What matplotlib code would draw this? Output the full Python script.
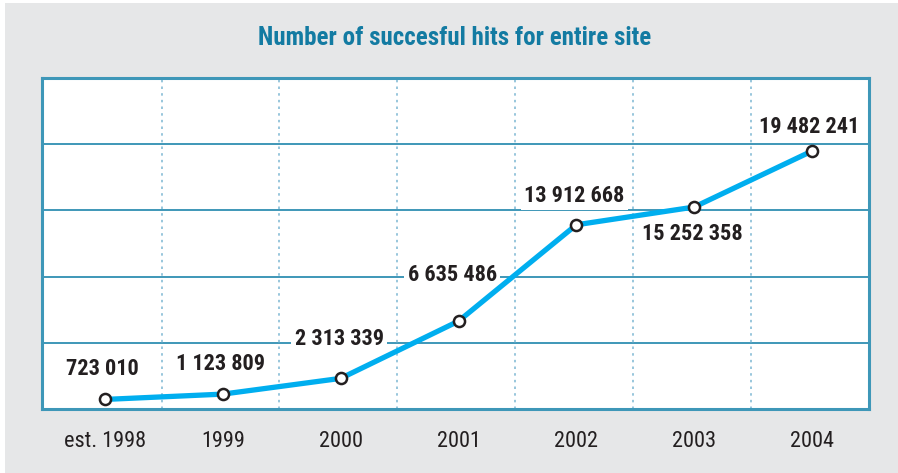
import matplotlib
matplotlib.use("Agg")
import matplotlib.pyplot as plt
from matplotlib.patches import Rectangle

categories = ["est. 1998", "1999", "2000", "2001", "2002", "2003", "2004"]
hits = [723010, 1123809, 2313339, 6635486, 13912668, 15252358, 19482241]
labels = ["723 010", "1 123 809", "2 313 339", "6 635 486", "13 912 668", "15 252 358", "19 482 241"]
title = "Number of succesful hits for entire site"

# label offsets in points (style)
offsets = [(-2, 22), (-1.5, 22), (-1, 28), (-4.5, 33), (-1.5, 21), (-1.5, -19.5), (-2, 17.5)]

FAM = ["Roboto Condensed", "DejaVu Sans"]
plt.rcParams["font.family"] = FAM

W, H = 898, 473
fig = plt.figure(figsize=(W / 100, H / 100), dpi=100, facecolor="#e6e7e8")
fig.patches.append(Rectangle((0, 0), 5 / W, 1, transform=fig.transFigure,
                             facecolor="white", edgecolor="none", zorder=0))
fig.patches.append(Rectangle((0, 1 - 3 / H), 1, 3 / H, transform=fig.transFigure,
                             facecolor="white", edgecolor="none", zorder=0))

ax = fig.add_axes([42 / W, 1 - 409 / H, (869 - 42) / W, (409 - 78) / H])
ax.set_facecolor("white")
x = list(range(len(categories)))
ax.set_xlim(-0.535, 6.484)
ax.set_ylim(0, 25_000_000)

for yv in [5e6, 10e6, 15e6, 20e6]:
    ax.axhline(yv, color="#3e97b8", lw=1.4, zorder=1)
for xv in [0.48, 1.48, 2.48, 3.48, 4.48, 5.48]:
    ax.axvline(xv, color="#86bcd6", lw=1.2, ls=(0, (1.5, 2.5)), zorder=1)

ax.plot(x, hits, color="#00aeef", lw=3.8, zorder=3, solid_capstyle="round")
ax.plot(x, hits, ls="none", marker="o", ms=8, mfc="white", mec="#231f20", mew=1.8, zorder=4)

for xi, yi, lab, off in zip(x, hits, labels, offsets):
    ax.annotate(lab, (xi, yi), xytext=off, textcoords="offset points",
                ha="center", va="center", fontsize=16, fontweight="bold",
                color="#231f20", zorder=2,
                bbox=dict(boxstyle="square,pad=0.15", fc="white", ec="none"))

for sp in ax.spines.values():
    sp.set_color("#3e97b8")
    sp.set_linewidth(2.2)
    sp.set_zorder(6)

ax.set_xticks(x)
ax.set_xticklabels(categories, fontsize=16, color="#231f20")
ax.tick_params(axis="x", length=0, pad=16)
ax.set_yticks([])

fig.text(455 / W, 1 - 38 / H, title, ha="center", va="center", fontsize=18,
         fontweight="bold", color="#137ba2")

fig.savefig("out.png", dpi=100, facecolor=fig.get_facecolor())
